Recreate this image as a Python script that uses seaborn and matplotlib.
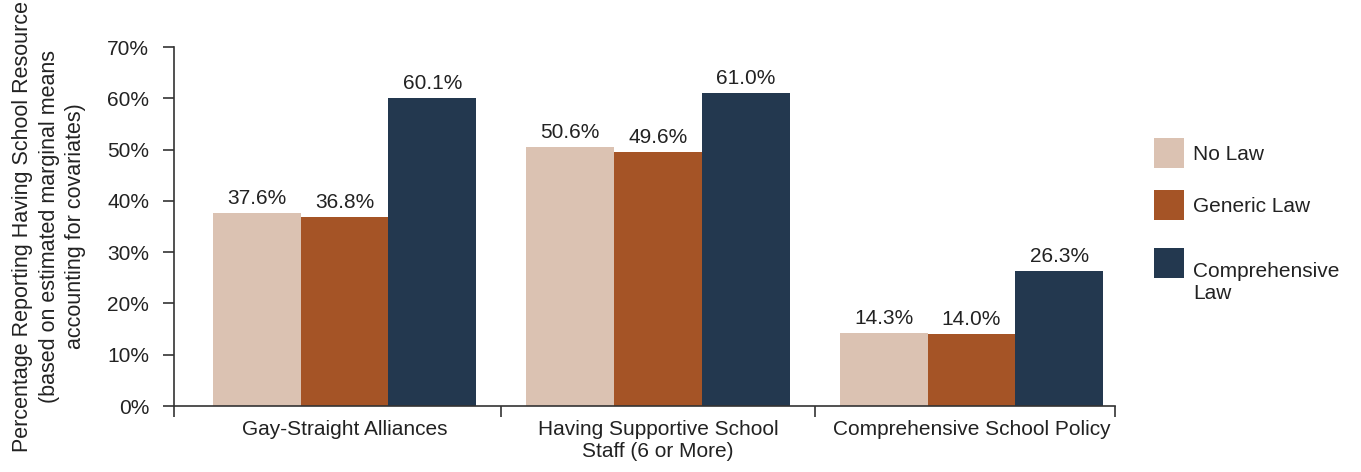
import pandas as pd
import matplotlib.pyplot as plt
import matplotlib.transforms as mtransforms
import seaborn as sns
from matplotlib.ticker import PercentFormatter

# data
categories = ['Gay-Straight Alliances', 'Having Supportive School\nStaff (6 or More)', 'Comprehensive School Policy']
laws = ['No Law', 'Generic Law', 'Comprehensive\nLaw']
no_law = [37.6, 50.6, 14.3]
generic_law = [36.8, 49.6, 14.0]
comprehensive_law = [60.1, 61.0, 26.3]
colors = ['#DBC2B2', '#A55426', '#23384F']

df = pd.DataFrame({
    'resource': categories * 3,
    'law': [law for law in laws for _ in categories],
    'pct': no_law + generic_law + comprehensive_law,
})

sns.set_style('white')
plt.rcParams['font.family'] = ['Liberation Sans', 'DejaVu Sans']
text_color = '#222222'
fs = 15

fig, ax = plt.subplots(figsize=(13.61, 4.72), dpi=100)
fig.subplots_adjust(left=0.1279, right=0.8193, bottom=0.1398, top=0.9004)

sns.barplot(data=df, x='resource', y='pct', hue='law', palette=colors,
            width=0.84, saturation=1, linewidth=0, ax=ax)

for c in ax.containers:
    ax.bar_label(c, fmt='%.1f%%', padding=3.5, fontsize=fs, color=text_color)

ax.set_ylim(0, 70)
ax.set_yticks(range(0, 71, 10))
ax.yaxis.set_major_formatter(PercentFormatter(decimals=0))
ax.set_xlim(-0.544, 2.458)
ax.set_xticks([0, 1, 2], labels=categories)
ax.set_xticks([-0.544, 0.5, 1.5, 2.458], minor=True)
ax.tick_params(axis='x', which='major', length=0, pad=10, labelsize=fs, labelcolor=text_color)
ax.tick_params(axis='x', which='minor', length=8, width=1.2, direction='out', color='#333333', bottom=True)
ax.tick_params(axis='y', length=8, width=1.2, direction='out', color='#333333', left=True,
               labelsize=fs, labelcolor=text_color, pad=10)

ax.set_xlabel('')
ax.set_ylabel('Percentage Reporting Having School Resource\n(based on estimated marginal means\naccounting for covariates)',
              fontsize=15.5, color=text_color, labelpad=15, linespacing=1.35)

sns.despine(ax=ax)
for side in ['left', 'bottom']:
    ax.spines[side].set_color('#333333')
    ax.spines[side].set_linewidth(1.2)

leg = ax.legend(title=None, frameon=False, loc='center left', bbox_to_anchor=(1.021, 0.545),
                handlelength=1.44, handleheight=1.84, labelspacing=1.05, handletextpad=0.45,
                fontsize=fs, labelcolor=text_color)
# the two-line label starts beside its patch, not centred on it
last = leg.get_texts()[-1]
last.set_transform(last.get_transform() + mtransforms.ScaledTranslation(0, -0.2, fig.dpi_scale_trans))

plt.savefig('out.png', dpi=100)
